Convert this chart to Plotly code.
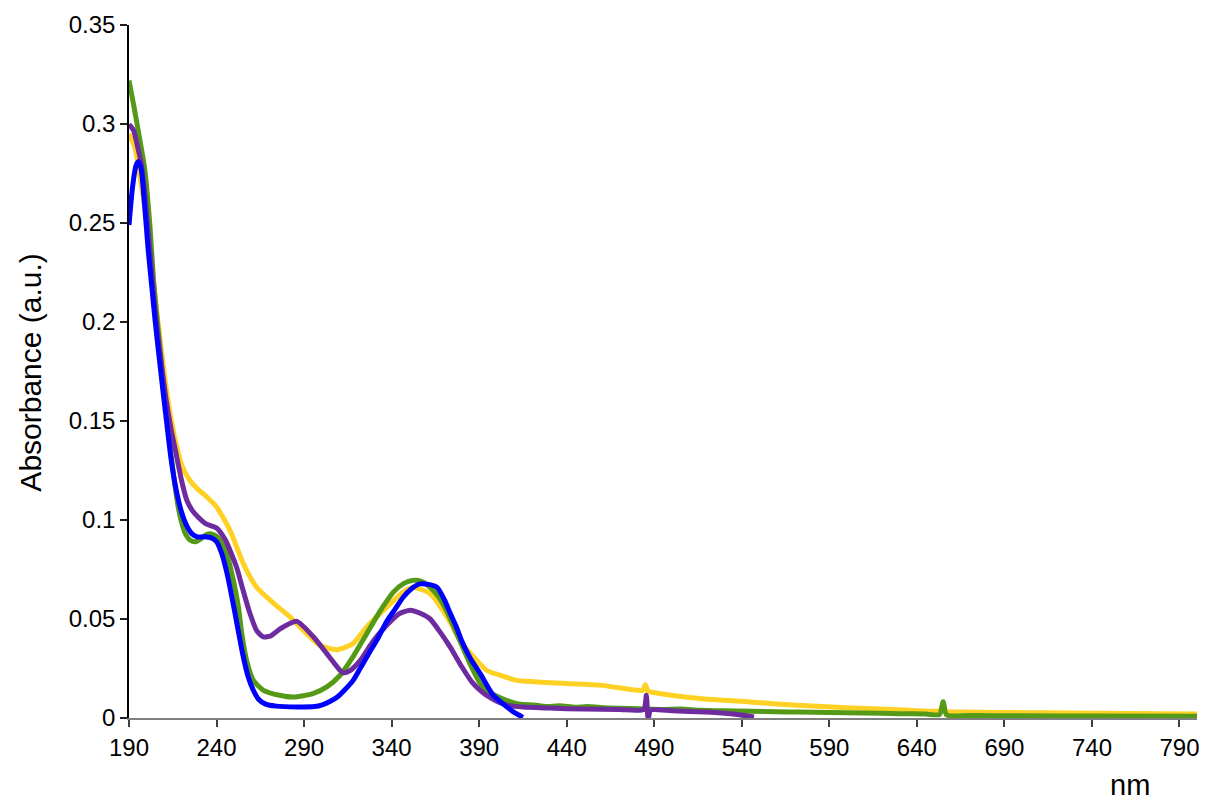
import plotly.graph_objects as go

# ---------------- data ----------------
yellow_x = [190, 193.4, 196, 199, 202, 205, 208, 211, 214, 217, 220, 224, 228.7, 234, 240,
            247.7, 255.3, 262.9, 272.5, 282, 291.4, 299, 308.7, 318, 325.8, 337.2, 346.6,
            352, 362, 373.4, 379, 386.7, 394.4, 402, 411.5, 421, 440, 459, 478, 483.5,
            484.9, 486.5, 489.6, 516, 544.6, 571.5, 600, 630, 653.4, 655, 656.6, 668.7,
            700, 725.8, 760, 800]
yellow_y = [0.295, 0.288, 0.275, 0.258, 0.238, 0.212, 0.189, 0.168, 0.151, 0.138, 0.128,
            0.121, 0.116, 0.112, 0.1066, 0.0948, 0.078, 0.066, 0.058, 0.051, 0.0426, 0.0367,
            0.0345, 0.0376, 0.046, 0.056, 0.0636, 0.066, 0.0628, 0.0485, 0.039, 0.031, 0.024,
            0.0216, 0.019, 0.0183, 0.0174, 0.0166, 0.0142, 0.0140, 0.0168, 0.0135, 0.0129,
            0.0098, 0.0081, 0.0064, 0.0052, 0.0042, 0.0039, 0.0070, 0.0035, 0.0030,
            0.0027, 0.0025, 0.0023, 0.0020]

green_x = [190, 193, 196, 199, 202, 204, 206, 208, 210, 212, 214, 216, 218, 220, 222, 225,
           228, 231, 234, 237, 240, 242, 245.8, 249.6, 252.5, 254.4, 257.2, 261, 266.8, 276,
           284, 295, 303, 310.6, 318, 325.8, 333.4, 341, 347, 352, 357, 362, 367, 371.5,
           376, 380, 385, 390.6, 394.4, 402, 409.5, 415, 421, 428, 436, 445, 452, 459, 470,
           482, 494, 505, 516, 530, 545, 560, 572, 590, 610, 630, 645, 653, 655, 657, 670,
           700, 740, 800]
green_y = [0.322, 0.308, 0.293, 0.277, 0.248, 0.221, 0.202, 0.184, 0.166, 0.149, 0.133,
           0.119, 0.107, 0.099, 0.0935, 0.0898, 0.089, 0.0905, 0.0925, 0.093, 0.0918,
           0.0897, 0.083, 0.0695, 0.056, 0.0428, 0.029, 0.019, 0.014, 0.0115, 0.0106,
           0.0123, 0.0157, 0.0216, 0.031, 0.0426, 0.054, 0.0636, 0.068, 0.0695, 0.069,
           0.066, 0.061, 0.054, 0.045, 0.037, 0.027, 0.0175, 0.014, 0.0102, 0.0078, 0.0068,
           0.0066, 0.0058, 0.0062, 0.0054, 0.0058, 0.0053, 0.0049, 0.0047, 0.0043, 0.0045,
           0.0039, 0.0036, 0.0034, 0.0031, 0.0030, 0.0028, 0.0025, 0.0022, 0.0020, 0.0018,
           0.0082, 0.0015, 0.0012, 0.0011, 0.0010, 0.0009]

purple_x = [190, 192.5, 195.3, 197, 199, 201, 203, 205, 208, 211, 214, 217, 220, 223, 226,
            230, 234, 240, 245, 248, 251.5, 255, 259, 263, 266.7, 271, 276.3, 285.8, 295.3,
            303, 310.6, 312.5, 316, 322, 329.6, 337.2, 344, 350.6, 356, 362, 368, 373.4,
            380, 386, 390.6, 395, 400, 406, 415, 430, 450, 470, 484, 485.5, 486.5, 488,
            500, 520, 535, 547]
purple_y = [0.2997, 0.297, 0.287, 0.280, 0.265, 0.245, 0.225, 0.205, 0.182, 0.162, 0.146,
            0.133, 0.120, 0.110, 0.105, 0.101, 0.098, 0.096, 0.090, 0.084, 0.076, 0.065,
            0.053, 0.044, 0.041, 0.0415, 0.045, 0.0488, 0.041, 0.0325, 0.024, 0.0229,
            0.0238, 0.029, 0.039, 0.0468, 0.0525, 0.0544, 0.053, 0.050, 0.043, 0.0359,
            0.026, 0.018, 0.014, 0.011, 0.0085, 0.0065, 0.0055, 0.0050, 0.0045, 0.0043,
            0.0043, 0.0115, -0.0005, 0.0040, 0.0037, 0.0030, 0.0020, 0.0005]

blue_x = [190, 192, 194, 195.5, 197, 199, 201, 203, 205, 208, 211, 214, 217, 220, 223, 226,
          229, 233, 237, 240, 243, 246, 249, 252, 255, 258, 261, 264, 268, 274, 286, 296,
          300, 305, 309, 313, 318, 322, 327, 332, 337, 342, 346.6, 351, 356, 361, 366,
          370, 373.4, 377, 380, 385, 390.6, 398, 405.8, 410, 415]
blue_y = [0.249, 0.268, 0.279, 0.281, 0.277, 0.258, 0.236, 0.218, 0.200, 0.176, 0.153,
          0.131, 0.115, 0.104, 0.097, 0.093, 0.0915, 0.0915, 0.091, 0.089, 0.083, 0.073,
          0.060, 0.046, 0.032, 0.021, 0.014, 0.0095, 0.007, 0.006, 0.0056, 0.0058, 0.0065,
          0.0085, 0.0106, 0.014, 0.019, 0.025, 0.0326, 0.040, 0.0485, 0.055, 0.061, 0.065,
          0.0677, 0.0675, 0.066, 0.060, 0.053, 0.046, 0.039, 0.030, 0.0224, 0.0115,
          0.0056, 0.0028, 0.0003]

x_ticks = [190, 240, 290, 340, 390, 440, 490, 540, 590, 640, 690, 740, 790]
y_ticks = [0, 0.05, 0.1, 0.15, 0.2, 0.25, 0.3, 0.35]

# ---------------- figure ----------------
FONT = "Liberation Sans, Arial, sans-serif"
fig = go.Figure()
series = [
    (yellow_x, yellow_y, "#FFD124"),
    (green_x, green_y, "#559A17"),
    (purple_x, purple_y, "#6E2BA0"),
    (blue_x, blue_y, "#0000FF"),
]
for xs, ys, col in series:
    fig.add_trace(go.Scatter(x=xs, y=ys, mode="lines",
                             line=dict(color=col, width=5, shape="spline", smoothing=0.6),
                             showlegend=False, hoverinfo="skip"))

# the page body adds an 8px margin, so the figure is sized/offset to compensate
fig.update_layout(
    width=1199, height=794, autosize=False,
    margin=dict(l=121, r=10, t=17, b=84, autoexpand=False),
    paper_bgcolor="white", plot_bgcolor="white",
    font=dict(family=FONT, size=24, color="black"),
    xaxis=dict(range=[190, 800], tickvals=x_ticks, ticktext=[str(v) for v in x_ticks],
               showline=True, linecolor="#808080", linewidth=2, automargin=False,
               ticks="outside", ticklen=7, tickwidth=2, tickcolor="#404040",
               showgrid=False, zeroline=False,
               tickfont=dict(family=FONT, size=24, color="black")),
    yaxis=dict(range=[0, 0.35], tickvals=y_ticks, ticktext=[f"{v:g}" for v in y_ticks],
               showline=True, linecolor="black", linewidth=1.5, automargin=False,
               ticks="outside", ticklen=7, tickwidth=1.5, tickcolor="#202020",
               showgrid=False, zeroline=False,
               tickfont=dict(family=FONT, size=24, color="black")),
    annotations=[
        dict(text="nm", xref="paper", yref="paper", x=0.937, y=-0.097,
             xanchor="center", yanchor="middle", showarrow=False,
             font=dict(family=FONT, size=29, color="black")),
        dict(text="Absorbance (a.u.)", xref="paper", yref="paper", x=-0.092, y=0.498,
             xanchor="center", yanchor="middle", textangle=-90, showarrow=False,
             font=dict(family=FONT, size=30, color="black")),
    ],
)

fig.write_html("out.html")
